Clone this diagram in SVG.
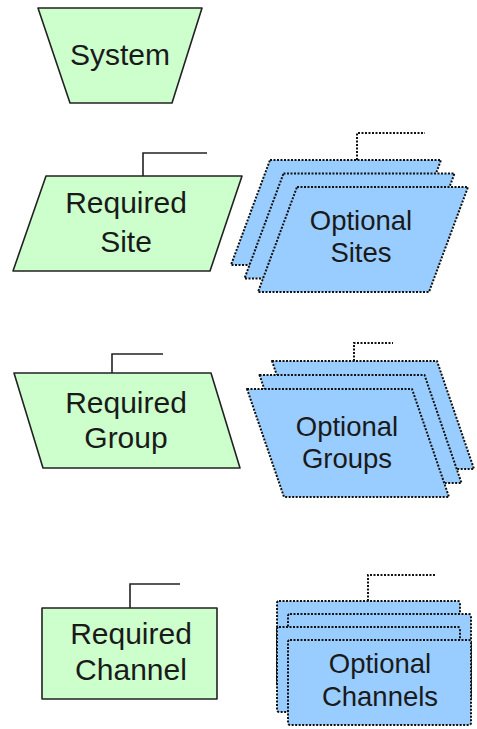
<svg xmlns="http://www.w3.org/2000/svg" width="477" height="729" viewBox="0 0 477 729">
<style>
.req{fill:#ccffcc;stroke:#222;stroke-width:1.6;stroke-linejoin:round}
.opt{fill:#99ccff;stroke:#111;stroke-width:2;stroke-dasharray:2 1.5;stroke-linejoin:round}
.cs{fill:none;stroke:#222;stroke-width:1.6}
.cd{fill:none;stroke:#111;stroke-width:2;stroke-dasharray:2 1.5}
text{font-family:"Liberation Sans",Arial,sans-serif;fill:#1a1a1a;text-anchor:middle}
.t1{font-size:30px}
.t2{font-size:27.5px}
</style>
<rect width="477" height="729" fill="#ffffff"/>
<g id="connectors">
<path class="cs" d="M143 176 V153 H207"/>
<path class="cs" d="M112 373 V354 H163"/>
<path class="cs" d="M130 608 V584 H180"/>
<path class="cd" d="M357 160 V133 H425"/>
<path class="cd" d="M354 361 V343 H393"/>
<path class="cd" d="M368 601 V575 H435"/>
</g>
<g id="system">
<polygon class="req" points="38,8 202,8 172,103 70,103"/>
<text class="t1" x="120" y="65">System</text>
</g>
<g id="required-site">
<polygon class="req" points="46,176 242,176 210,271 13,271"/>
<text class="t1" x="126" y="213">Required</text>
<text class="t1" x="126" y="252">Site</text>
</g>
<g id="optional-sites">
<polygon class="opt" points="270,160 441,160 402,265 231,265"/>
<polygon class="opt" points="283.5,173.5 454.5,173.5 415.5,278.5 244.5,278.5"/>
<polygon class="opt" points="297,187 468,187 429,292 258,292"/>
<text class="t2" x="361" y="230">Optional</text>
<text class="t2" x="361" y="262">Sites</text>
</g>
<g id="required-group">
<polygon class="req" points="14,373 211,373 240,468 43,468"/>
<text class="t1" x="126" y="413">Required</text>
<text class="t1" x="126" y="448">Group</text>
</g>
<g id="optional-groups">
<polygon class="opt" points="272,361 437,361 474,469 309,469"/>
<polygon class="opt" points="259.5,375 424.5,375 461.5,483 296.5,483"/>
<polygon class="opt" points="247,389 412,389 449,497 284,497"/>
<text class="t2" x="347" y="436">Optional</text>
<text class="t2" x="347" y="468">Groups</text>
</g>
<g id="required-channel">
<rect class="req" x="42" y="608" width="175" height="91"/>
<text class="t1" x="131" y="644">Required</text>
<text class="t1" x="131" y="680">Channel</text>
</g>
<g id="optional-channels">
<rect class="opt" x="277" y="601" width="183" height="85" rx="2"/>
<rect class="opt" x="288" y="614" width="183" height="85" rx="2"/>
<rect class="opt" x="277" y="627" width="183" height="85" rx="2"/>
<rect class="opt" x="288" y="640" width="183" height="85" rx="2"/>
<text class="t2" x="380" y="673">Optional</text>
<text class="t2" x="380" y="706">Channels</text>
</g>
</svg>
